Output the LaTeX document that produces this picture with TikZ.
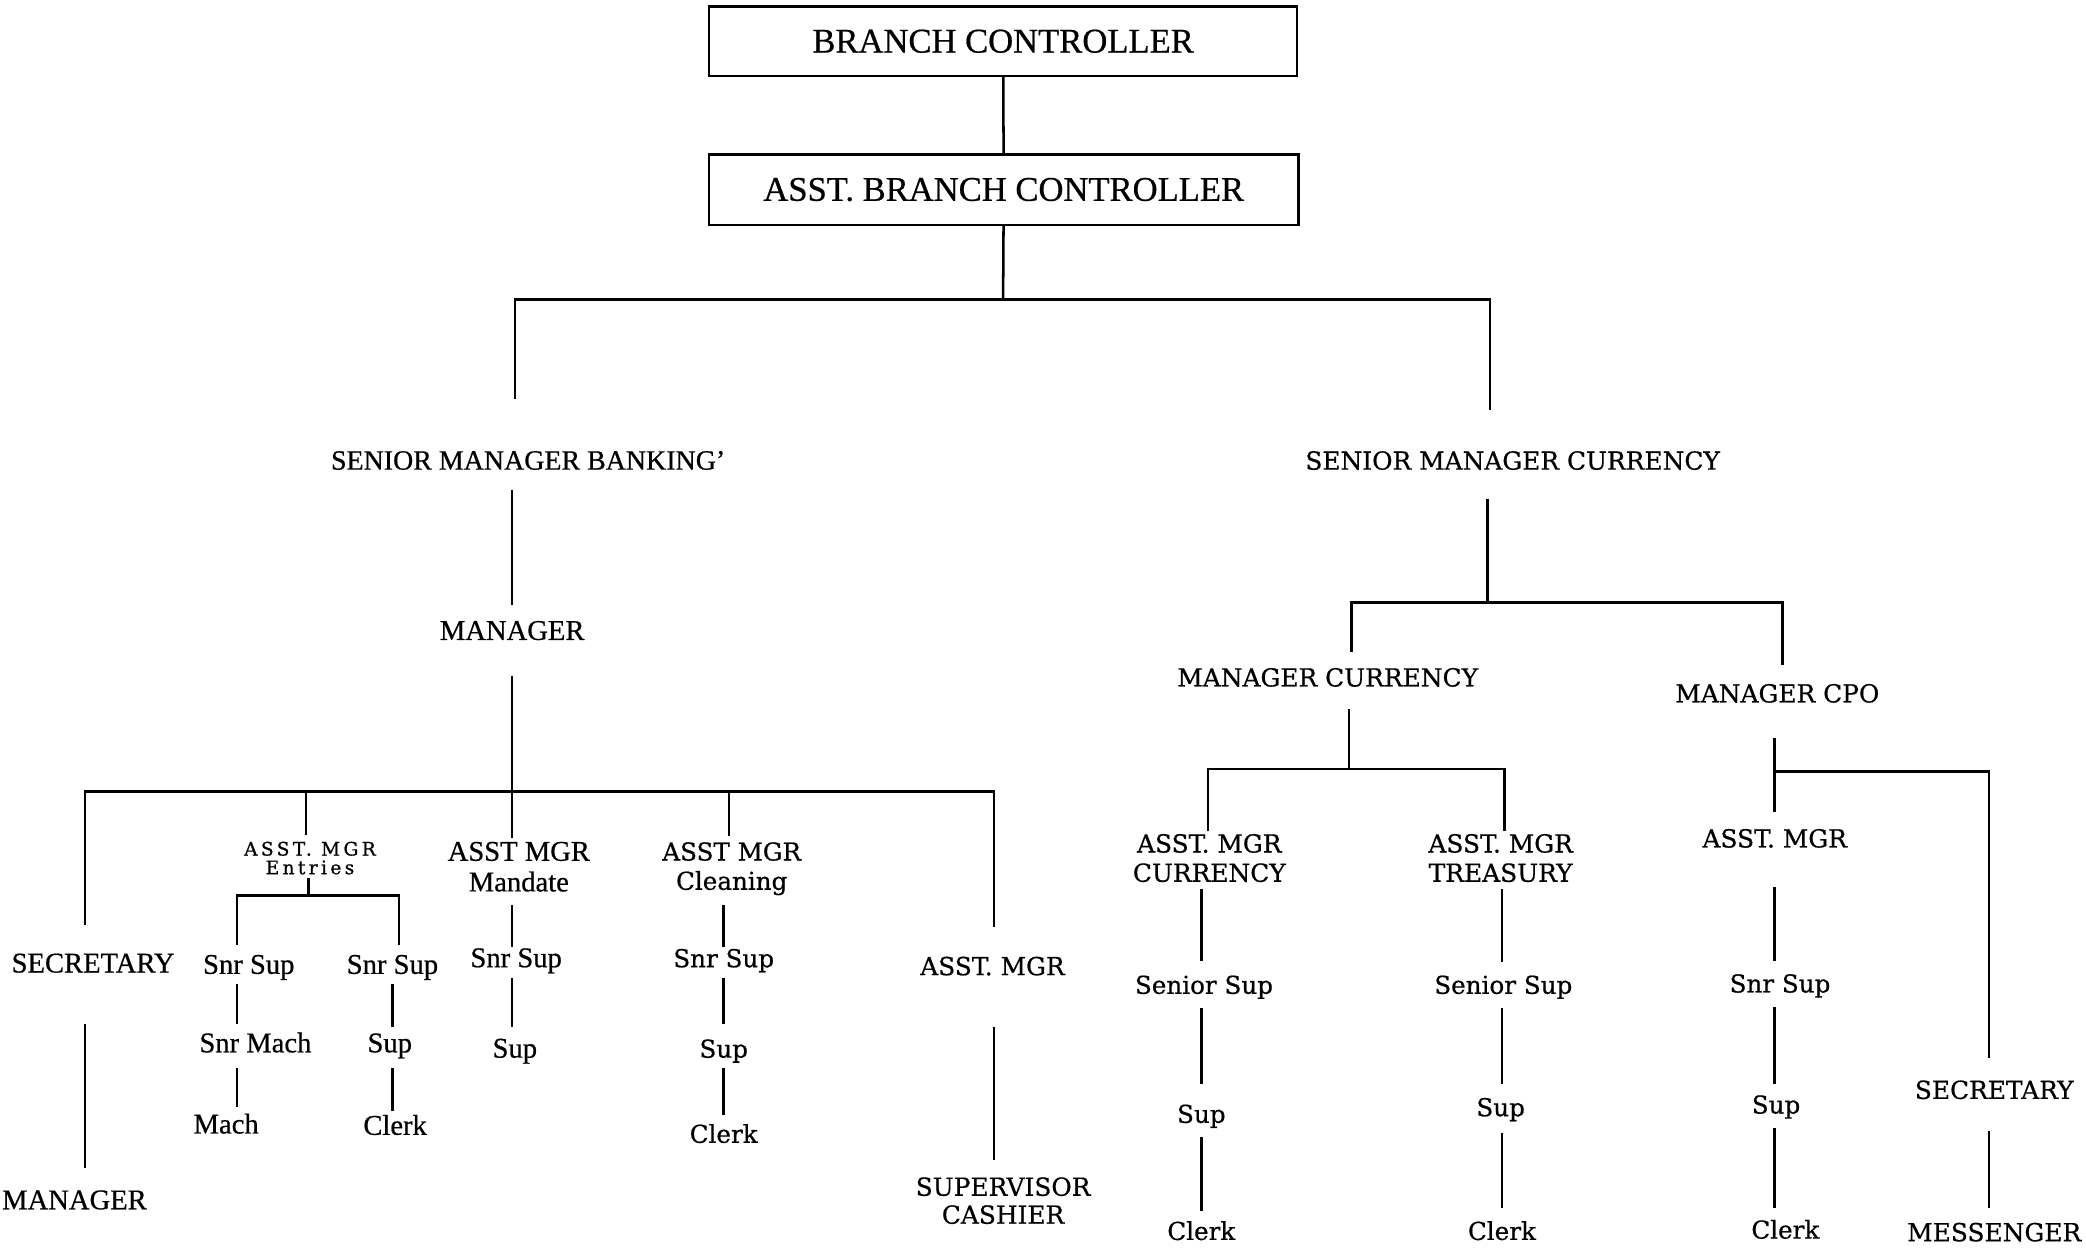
\documentclass[tikz,border=0pt]{standalone}
\usepackage{fontspec}
\setmainfont[FakeBold=0.6]{Liberation Serif}
\newfontfamily\widefont[FakeBold=0.6]{DejaVu Serif}
\newfontfamily\widesp[LetterSpace=18,FakeBold=0.8]{DejaVu Serif}
\begin{document}
\begin{tikzpicture}[x=1pt,y=-1pt,
  conn/.style={line width=1.9pt},
  boxn/.style={draw,line width=1.9pt,minimum width=442pt,minimum height=52pt,inner sep=0pt,font=\fontsize{26}{28}\selectfont},
  nar/.style={anchor=base,inner sep=0pt,outer sep=0pt,text height=15pt,text depth=4.5pt,font=\fontsize{21.5}{23}\selectfont},
  wid/.style={anchor=base,inner sep=0pt,outer sep=0pt,text height=14pt,text depth=4.5pt,font=\widefont\fontsize{18.5}{22}\selectfont},
  widb/.style={anchor=base,inner sep=0pt,outer sep=0pt,text height=14pt,text depth=4.5pt,font=\widefont\fontsize{18.7}{22}\selectfont},
  nartwo/.style={inner sep=0pt,outer sep=0pt,align=center,font=\fontsize{21.5}{23}\selectfont},
  widtwo/.style={inner sep=0pt,outer sep=0pt,align=center,font=\widefont\fontsize{18.7}{22}\selectfont},
  smalltwo/.style={inner sep=0pt,outer sep=0pt,align=center,font=\widesp\fontsize{14}{14}\selectfont}
]
\useasboundingbox (0,0) rectangle (1568,938);
\fill[white] (0,0) rectangle (1568,938);

% ---- top boxes
\node[boxn] (bc) at (754,31) {BRANCH CONTROLLER};
\node[boxn,minimum width=443pt,minimum height=53pt] (abc) at (754.5,142.5) {ASST. BRANCH CONTROLLER};

% ---- banking side nodes
\node[nar,font=\fontsize{21}{23}\selectfont] (smb) at (397,353) {SENIOR MANAGER BANKING'};
\node[nar] (mgr) at (385,481) {MANAGER};
\node[nar] (sec1) at (70,731) {SECRETARY};
\node[nar] (mgrb) at (56,909) {MANAGER};
\node[smalltwo] (entries) at (233,645) {ASST. MGR\\Entries};
\node[nar] (ss1) at (187,732) {Snr Sup};
\node[nar] (ss2) at (295,732) {Snr Sup};
\node[nar] (sm) at (192,791) {Snr Mach};
\node[nar] (mach) at (170,852) {Mach};
\node[nar] (sup2) at (293,791) {Sup};
\node[nar] (clerk1) at (297,853) {Clerk};
\node[nartwo] (mandate) at (390,651.5) {ASST MGR\\Mandate};
\node[nar] (ss3) at (388,727) {Snr Sup};
\node[nar] (sup3) at (387,795) {Sup};
\node[widtwo,font=\widefont\fontsize{18.5}{22}\selectfont] (cleaning) at (550,653) {ASST MGR\\Cleaning};
\node[wid] (ss4) at (544,727) {Snr Sup};
\node[wid] (sup4) at (544,795) {Sup};
\node[wid] (clerk2) at (544,859) {Clerk};
\node[widb] (am1) at (746,733) {ASST. MGR};
\node[widtwo,font=\widefont\fontsize{18.7}{21}\selectfont] (supcash) at (754,902.5) {SUPERVISOR\\CASHIER};

% ---- currency side nodes
\node[widb] (smc) at (1137,353) {SENIOR MANAGER CURRENCY};
\node[widb] (mcur) at (998,516) {MANAGER CURRENCY};
\node[widb] (mcpo) at (1336,528) {MANAGER CPO};
\node[widtwo] (amc) at (909,645) {ASST. MGR\\CURRENCY};
\node[widtwo] (amt) at (1128,645) {ASST. MGR\\TREASURY};
\node[wid] (sen1) at (905,747) {Senior Sup};
\node[wid] (sup5) at (903,844) {Sup};
\node[wid] (clerk3) at (903,932) {Clerk};
\node[wid] (sen2) at (1130,747) {Senior Sup};
\node[wid] (sup6) at (1128,839) {Sup};
\node[wid] (clerk4) at (1129,932) {Clerk};
\node[widb] (am2) at (1334,637) {ASST. MGR};
\node[wid] (ss5) at (1338,746) {Snr Sup};
\node[wid] (sup7) at (1335,837) {Sup};
\node[wid] (clerk5) at (1342,931) {Clerk};
\node[widb] (sec2) at (1499,826) {SECRETARY};
\node[widb] (mess) at (1499,933) {MESSENGER};

% ---- junction points
\coordinate (j1) at (754,225);
\coordinate (j1l) at (387,225);
\coordinate (j1r) at (1120,225);
\coordinate (j2) at (385,595);
\coordinate (j2a) at (64,595);
\coordinate (j2b) at (230,595);
\coordinate (j2d) at (548,595);
\coordinate (j2e) at (747,595);
\coordinate (eL) at (178,673);
\coordinate (eM) at (232,673);
\coordinate (eR) at (300,673);
\coordinate (j3) at (1118,453);
\coordinate (j3l) at (1016,453);
\coordinate (j3r) at (1340,453);
\coordinate (j4) at (1014,578);
\coordinate (j4l) at (908,578);
\coordinate (j4r) at (1131,578);
\coordinate (j5) at (1334,580);
\coordinate (j5r) at (1495,580);

% ---- connectors: top
\draw[conn] (bc) -- (abc);
\draw[conn] (abc) -- (j1);
\draw[conn,shorten <=38pt,shorten >=31pt] (j1l |- smb.north) -- (j1l) -- (j1r) -- (j1r |- smc.north);

% ---- banking
\draw[conn,shorten <=10.5pt,shorten >=11pt] (mgr |- smb.south) -- (mgr.north);
\draw[conn,shorten <=22.5pt] (mgr.south) -- (j2);
\draw[conn,shorten <=21pt,shorten >=22pt] (j2a |- sec1.north) -- (j2a) -- (j2e) -- (j2e |- am1.north);
\draw[conn,shorten >=5pt] (j2b) -- (j2b |- entries.north);
\draw[conn,shorten >=3pt] (j2) -- (j2 |- mandate.north);
\draw[conn,shorten >=5pt] (j2d) -- (j2d |- cleaning.north);
\draw[conn,shorten <=34.5pt,shorten >=16pt] (j2a |- sec1.south) -- (j2a |- mgrb.north);
\draw[conn,shorten <=34.5pt,shorten >=13pt] (j2e |- am1.south) -- (j2e |- supcash.north);

\draw[conn,shorten <=3pt] (eM |- entries.south) -- (eM);
\draw[conn,shorten <=7pt,shorten >=7pt] (eL |- ss1.north) -- (eL) -- (eR) -- (eR |- ss2.north);
\draw[conn,shorten <=3.5pt,shorten >=6pt] (eL |- ss1.south) -- (eL |- sm.north);
\draw[conn,shorten <=7.5pt,shorten >=5pt] (eL |- sm.south) -- (eL |- mach.north);
\draw[conn,shorten <=3.5pt,shorten >=4pt] (ss2.south) -- (ss2.south |- sup2.north);
\draw[conn,shorten <=7.5pt,shorten >=3pt] (ss2 |- sup2.south) -- (ss2 |- clerk1.north);

\draw[conn,shorten <=10pt] (j2 |- mandate.south) -- (j2 |- ss3.north);
\draw[conn,shorten <=3.5pt,shorten >=8pt] (j2 |- ss3.south) -- (j2 |- sup3.north);

\draw[conn,shorten <=7pt,shorten >=1pt] (ss4 |- cleaning.south) -- (ss4.north);
\draw[conn,shorten <=3.5pt,shorten >=11pt] (ss4.south) -- (ss4 |- sup4.north);
\draw[conn,shorten <=3.5pt,shorten >=7pt] (ss4 |- sup4.south) -- (ss4 |- clerk2.north);

% ---- currency
\draw[conn,shorten <=17.5pt] (j3 |- smc.south) -- (j3);
\draw[conn,shorten <=12pt,shorten >=14pt] (j3l |- mcur.north) -- (j3l) -- (j3r) -- (j3r |- mcpo.north);
\draw[conn,shorten <=12.5pt] (j4 |- mcur.south) -- (j4);
\draw[conn,shorten <=2pt,shorten >=2pt] (j4l |- amc.north) -- (j4l) -- (j4r) -- (j4r |- amt.north);

\draw[conn,shorten <=5pt,shorten >=11pt] (sup5 |- amc.south) -- (sup5 |- sen1.north);
\draw[conn,shorten <=6.5pt,shorten >=15pt] (sup5 |- sen1.south) -- (sup5.north);
\draw[conn,shorten <=6.5pt,shorten >=8pt] (sup5.south) -- (sup5 |- clerk3.north);

\draw[conn,shorten <=5pt,shorten >=10pt] (clerk4 |- amt.south) -- (clerk4 |- sen2.north);
\draw[conn,shorten <=6.5pt,shorten >=10pt] (clerk4 |- sen2.south) -- (clerk4 |- sup6.north);
\draw[conn,shorten <=8.5pt,shorten >=10pt] (clerk4 |- sup6.south) -- (clerk4.north);

\draw[conn,shorten <=22.5pt,shorten >=13pt] (am2 |- mcpo.south) -- (am2.north);
\draw[conn,shorten >=17pt] (j5) -- (j5r) -- (j5r |- sec2.north);
\draw[conn,shorten <=25.5pt,shorten >=10pt] (am2.south) -- (am2 |- ss5.north);
\draw[conn,shorten <=6.5pt,shorten >=8pt] (am2 |- ss5.south) -- (am2 |- sup7.north);
\draw[conn,shorten <=6.5pt,shorten >=9pt] (am2 |- sup7.south) -- (am2 |- clerk5.north);
\draw[conn,shorten <=19.5pt,shorten >=11pt] (j5r |- sec2.south) -- (j5r |- mess.north);
\end{tikzpicture}
\end{document}
